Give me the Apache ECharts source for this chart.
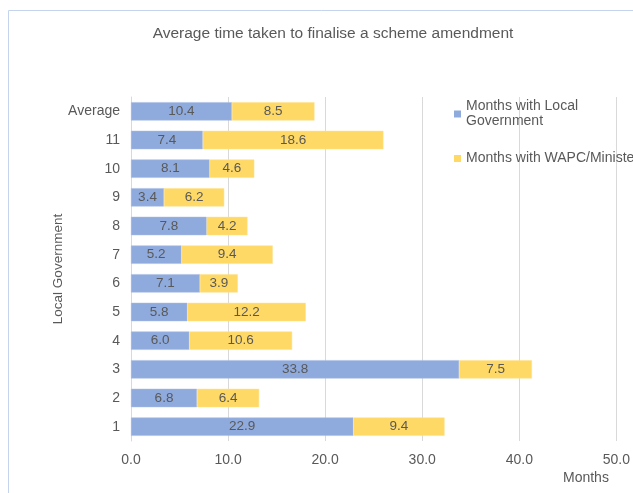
<!DOCTYPE html>
<html>
<head>
<meta charset="utf-8">
<script src="https://cdn.jsdelivr.net/npm/echarts@6/dist/echarts.min.js"></script>
<style>html,body{margin:0;padding:0;background:#fff}#c{width:633px;height:493px}</style>
</head>
<body>
<div id="c"></div>
<script>
const categories = ['1','2','3','4','5','6','7','8','9','10','11','Average'];
const localGov = [22.9, 6.8, 33.8, 6.0, 5.8, 7.1, 5.2, 7.8, 3.4, 8.1, 7.4, 10.4];
const wapc = [9.4, 6.4, 7.5, 10.6, 12.2, 3.9, 9.4, 4.2, 6.2, 4.6, 18.6, 8.5];
const seriesNames = ['Months with Local\nGovernment', 'Months with WAPC/Minister'];
const xTicks = [0, 10, 20, 30, 40, 50];

const chart = echarts.init(document.getElementById('c'));
const txt = '#595959';
const ff = "'Liberation Sans', Arial, sans-serif";
const lbl = {show: true, position: 'inside', color: txt, fontSize: 13.5, fontFamily: ff, formatter: p => p.value.toFixed(1)};
chart.setOption({
  animation: false,
  textStyle: {fontFamily: ff},
  title: {text: 'Average time taken to finalise a scheme amendment', left: 328, textAlign: 'center', top: 21,
    textStyle: {fontSize: 15.5, fontWeight: 'normal', color: txt, fontFamily: ff}},
  legend: {orient: 'vertical', left: 449, top: 94, itemGap: 22, icon: 'rect', itemWidth: 7, itemHeight: 7, itemStyle: {borderWidth: 0},
    textStyle: {color: txt, fontSize: 14, lineHeight: 15, fontFamily: ff}},
  grid: {left: 131, right: 16, top: 97, bottom: 52},
  xAxis: {type: 'value', min: xTicks[0], max: xTicks[xTicks.length-1], interval: 10,
    axisLabel: {color: txt, fontSize: 14, margin: 12, fontFamily: ff, formatter: v => v.toFixed(1)},
    splitLine: {lineStyle: {color: '#d9d9d9'}}, axisLine: {show: false}, axisTick: {show: false}},
  yAxis: {type: 'category', data: categories, name: 'Local Government', nameLocation: 'middle', nameGap: 66,
    nameMoveOverlap: false,
    nameTextStyle: {color: txt, fontSize: 13.5, fontFamily: ff},
    axisLabel: {color: txt, fontSize: 14, margin: 11, fontFamily: ff},
    axisLine: {lineStyle: {color: '#d9d9d9'}}, axisTick: {show: false}},
  graphic: [
    {type: 'rect', shape: {x: 8.5, y: 10.5, width: 700, height: 600}, style: {fill: 'none', stroke: '#c5d4ee', lineWidth: 1}},
    {type: 'text', left: 563, top: 471, style: {text: 'Months', fill: txt, fontSize: 14, fontFamily: ff}}
  ],
  series: [
    {name: seriesNames[0], type: 'bar', stack: 's', data: localGov, barCategoryGap: '36%',
      itemStyle: {color: '#8faadc', borderColor: '#a9bde5', borderWidth: 0.5}, label: lbl},
    {name: seriesNames[1], type: 'bar', stack: 's', data: wapc,
      itemStyle: {color: '#ffd966', borderColor: '#ffe08a', borderWidth: 0.5}, label: lbl}
  ]
});
</script>
</body>
</html>
